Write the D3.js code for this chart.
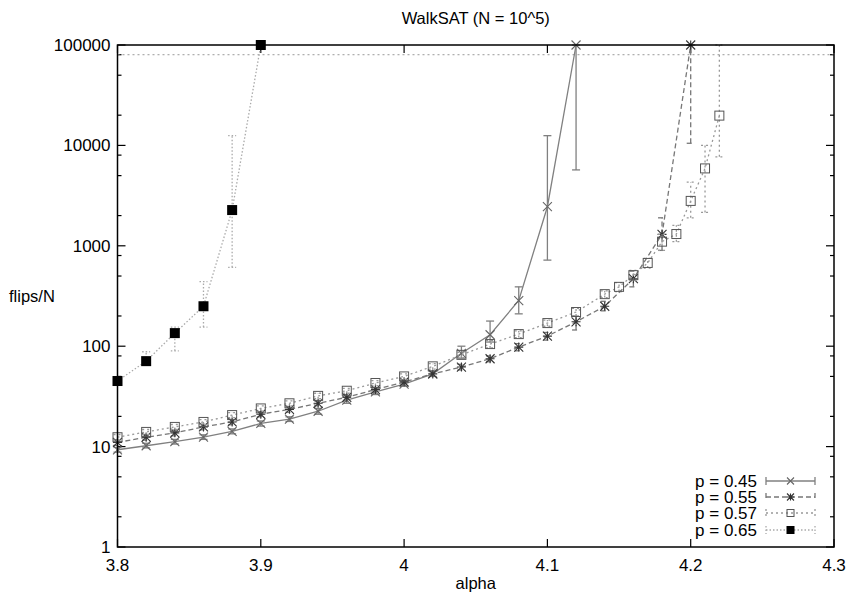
<!DOCTYPE html>
<html>
<head>
<meta charset="utf-8">
<script src="https://cdn.jsdelivr.net/npm/d3@7"></script>
<style>
  body { margin: 0; background: #fff; }
  text { font-family: "Liberation Sans", Arial, Helvetica, sans-serif; fill: #000; }
</style>
</head>
<body>
<svg width="849" height="595"></svg>
<script>
// data
const alpha45 = [3.80, 3.82, 3.84, 3.86, 3.88, 3.90, 3.92, 3.94, 3.96, 3.98, 4.00, 4.02, 4.04, 4.06, 4.08, 4.10, 4.12];
const flips45 = [9.3, 10.2, 11.2, 12.4, 14.2, 17, 18.8, 22.5, 29, 35, 42, 53, 85, 130, 285, 2450, 100000];
const lo45    = [8.8, 9.7, 10.6, 11.8, 13.4, 16, 17.8, 21, 27, 33, 40, 50, 76, 110, 210, 720, 5700];
const hi45    = [9.8, 10.8, 11.8, 13.1, 15, 18, 19.8, 24, 31, 37, 44.5, 56, 100, 178, 390, 12500, 100000];

const alpha55 = [3.80, 3.82, 3.84, 3.86, 3.88, 3.90, 3.92, 3.94, 3.96, 3.98, 4.00, 4.02, 4.04, 4.06, 4.08, 4.10, 4.12, 4.14, 4.16, 4.18, 4.20];
const flips55 = [11, 12.4, 13.7, 15.7, 17.6, 21, 23.5, 27, 31, 37, 44, 53, 62, 75, 98, 126, 175, 250, 470, 1300, 100000];
const lo55    = [10.3, 11.6, 12.8, 14.7, 16.5, 19.8, 22, 25.5, 29, 35, 42, 50, 58, 70, 90, 115, 145, 225, 390, 900, 10500];
const hi55    = [11.7, 13.2, 14.6, 16.7, 18.7, 22.3, 25, 28.5, 33, 39, 46, 56, 66, 80, 106, 137, 200, 280, 560, 1900, 100000];

const alpha57 = [3.80, 3.82, 3.84, 3.86, 3.88, 3.90, 3.92, 3.94, 3.96, 3.98, 4.00, 4.02, 4.04, 4.06, 4.08, 4.10, 4.12,
                 4.14, 4.15, 4.16, 4.17, 4.18, 4.19, 4.20, 4.21, 4.22];
const flips57 = [12.4, 14, 15.7, 17.6, 20.6, 24, 27, 32, 36, 43, 50, 63, 82, 105, 132, 170, 219,
                 330, 390, 510, 675, 1100, 1310, 2800, 5900, 19800];
const lo57    = [11.6, 13.2, 14.8, 16.6, 19.4, 22.6, 25.5, 30, 34, 40.5, 47, 59, 77, 96, 122, 158, 200,
                 305, 350, 450, 600, 900, 1100, 1900, 2150, 7700];
const hi57    = [13.2, 14.8, 16.6, 18.6, 21.8, 25.4, 28.5, 34, 38, 45.5, 53, 67, 87, 114, 142, 182, 238,
                 355, 430, 570, 750, 1300, 1600, 4300, 10000, 100000];

const alpha65 = [3.80, 3.82, 3.84, 3.86, 3.88, 3.90];
const flips65 = [45, 71, 135, 250, 2270, 100000];
const lo65    = [42, 65, 90, 155, 610, 100000];
const hi65    = [48, 88, 155, 440, 12500, 100000];

const cutoff = 80000;

const xTicks = [3.8, 3.9, 4.0, 4.1, 4.2, 4.3];
const xTickLabels = ['3.8', '3.9', '4', '4.1', '4.2', '4.3'];
const yTicks = [1, 10, 100, 1000, 10000, 100000];
const yTickLabels = ['1', '10', '100', '1000', '10000', '100000'];

const svg = d3.select('svg');

const margin = {top: 45, left: 117.5};
const innerWidth = 834 - margin.left;
const innerHeight = 547 - margin.top;

const xScale = d3.scaleLinear().domain([3.8, 4.3]).range([0, innerWidth]);
const yScale = d3.scaleLog().domain([1, 100000]).range([innerHeight, 0]);

const g = svg.append('g').attr('transform', `translate(${margin.left},${margin.top})`);

// minor log ticks at 2, 5, 8 of each decade
const minorTicks = [];
for (let d = 1; d < 100000; d *= 10) [2, 5, 8].forEach(m => minorTicks.push(d * m));

const tickLen = 8, minorLen = 4;
const ticks = g.append('g').attr('stroke', '#000').attr('stroke-width', 1.2);
yTicks.forEach(v => {
    ticks.append('line').attr('x1', 0).attr('x2', tickLen).attr('y1', yScale(v)).attr('y2', yScale(v));
    ticks.append('line').attr('x1', innerWidth).attr('x2', innerWidth - tickLen).attr('y1', yScale(v)).attr('y2', yScale(v));
});
minorTicks.forEach(v => {
    ticks.append('line').attr('x1', 0).attr('x2', minorLen).attr('y1', yScale(v)).attr('y2', yScale(v));
    ticks.append('line').attr('x1', innerWidth).attr('x2', innerWidth - minorLen).attr('y1', yScale(v)).attr('y2', yScale(v));
});
xTicks.forEach(v => {
    ticks.append('line').attr('x1', xScale(v)).attr('x2', xScale(v)).attr('y1', innerHeight).attr('y2', innerHeight - tickLen);
    ticks.append('line').attr('x1', xScale(v)).attr('x2', xScale(v)).attr('y1', 0).attr('y2', tickLen);
});

// tick labels
g.selectAll('.ylab').data(yTicks).enter().append('text')
    .attr('x', -7).attr('y', d => yScale(d)).attr('dy', '0.35em')
    .attr('text-anchor', 'end').attr('font-size', 17)
    .text((d, i) => yTickLabels[i]);
g.selectAll('.xlab').data(xTicks).enter().append('text')
    .attr('x', d => xScale(d)).attr('y', innerHeight + 24)
    .attr('text-anchor', 'middle').attr('font-size', 17)
    .text((d, i) => xTickLabels[i]);

// cutoff line
g.append('line')
    .attr('x1', 0).attr('x2', innerWidth)
    .attr('y1', yScale(cutoff)).attr('y2', yScale(cutoff))
    .attr('stroke', '#999').attr('stroke-width', 1).attr('stroke-dasharray', '2,3');

const series = [
    {label: 'p = 0.45', xs: alpha45, ys: flips45, lo: lo45, hi: hi45, color: '#808080', dash: null, marker: 'x'},
    {label: 'p = 0.55', xs: alpha55, ys: flips55, lo: lo55, hi: hi55, color: '#777', dash: '5,3', marker: 'star'},
    {label: 'p = 0.57', xs: alpha57, ys: flips57, lo: lo57, hi: hi57, color: '#999', dash: '2,3', marker: 'square'},
    {label: 'p = 0.65', xs: alpha65, ys: flips65, lo: lo65, hi: hi65, color: '#aaa', dash: '1.5,2', marker: 'filled'}
];

const drawMarker = (sel, type, x, y, s) => {
    if (type === 'x') {
        sel.append('path').attr('d', `M${x - s},${y - s}L${x + s},${y + s}M${x - s},${y + s}L${x + s},${y - s}`)
            .attr('stroke', '#666').attr('stroke-width', 1.1).attr('fill', 'none');
    } else if (type === 'star') {
        sel.append('path').attr('d', `M${x - s},${y - s}L${x + s},${y + s}M${x - s},${y + s}L${x + s},${y - s}M${x - s},${y}L${x + s},${y}M${x},${y - s}L${x},${y + s}`)
            .attr('stroke', '#333').attr('stroke-width', 1.1).attr('fill', 'none');
    } else if (type === 'square') {
        sel.append('rect').attr('x', x - s).attr('y', y - s).attr('width', 2 * s).attr('height', 2 * s)
            .attr('stroke', '#555').attr('stroke-width', 1).attr('fill', 'none');
    } else {
        sel.append('rect').attr('x', x - s - 0.5).attr('y', y - s - 0.5).attr('width', 2 * s + 1).attr('height', 2 * s + 1)
            .attr('fill', '#000');
    }
};

series.forEach(s => {
    const pts = s.xs.map((a, i) => ({a, v: s.ys[i], lo: s.lo[i], hi: s.hi[i]}));
    const sg = g.append('g');
    const line = d3.line().x(d => xScale(d.a)).y(d => yScale(d.v));
    sg.append('path').datum(pts).attr('d', line)
        .attr('fill', 'none').attr('stroke', s.color).attr('stroke-width', 1.3)
        .attr('stroke-dasharray', s.dash);
    // error bars
    const cap = 4;
    pts.forEach(d => {
        if (d.hi <= d.lo) return;
        const x = xScale(d.a);
        const e = sg.append('g').attr('stroke', s.color).attr('stroke-width', 1.3).attr('stroke-dasharray', s.dash);
        e.append('line').attr('x1', x).attr('x2', x).attr('y1', yScale(d.lo)).attr('y2', yScale(d.hi));
        e.append('line').attr('x1', x - cap).attr('x2', x + cap).attr('y1', yScale(d.lo)).attr('y2', yScale(d.lo));
        e.append('line').attr('x1', x - cap).attr('x2', x + cap).attr('y1', yScale(d.hi)).attr('y2', yScale(d.hi));
    });
    pts.forEach(d => drawMarker(sg, s.marker, xScale(d.a), yScale(d.v), 4.5));
});

// border
g.append('rect').attr('x', 0).attr('y', 0).attr('width', innerWidth).attr('height', innerHeight)
    .attr('fill', 'none').attr('stroke', '#000').attr('stroke-width', 1.5);

// legend
const legend = svg.append('g');
const legendRowY = [481, 497, 513, 530];
series.forEach((s, i) => {
    const y = legendRowY[i];
    legend.append('text').attr('x', 757).attr('y', y).attr('dy', '0.35em')
        .attr('text-anchor', 'end').attr('font-size', 17).text(s.label);
    const lg = legend.append('g').attr('stroke', s.color).attr('stroke-width', 1.3).attr('stroke-dasharray', s.dash);
    lg.append('line').attr('x1', 766).attr('x2', 815).attr('y1', y).attr('y2', y);
    lg.append('line').attr('x1', 766).attr('x2', 766).attr('y1', y - 4).attr('y2', y + 4);
    lg.append('line').attr('x1', 815).attr('x2', 815).attr('y1', y - 4).attr('y2', y + 4);
    drawMarker(legend, s.marker, 790.5, y, 3.5);
});

// title and axis labels
svg.append('text').attr('x', margin.left + innerWidth / 2).attr('y', 24)
    .attr('text-anchor', 'middle').attr('font-size', 16.5).text('WalkSAT (N = 10^5)');
svg.append('text').attr('x', margin.left + innerWidth / 2).attr('y', 589)
    .attr('text-anchor', 'middle').attr('font-size', 16.5).text('alpha');
svg.append('text').attr('x', 9).attr('y', margin.top + innerHeight / 2).attr('dy', '0.35em')
    .attr('font-size', 16.5).text('flips/N');
</script>
</body>
</html>
